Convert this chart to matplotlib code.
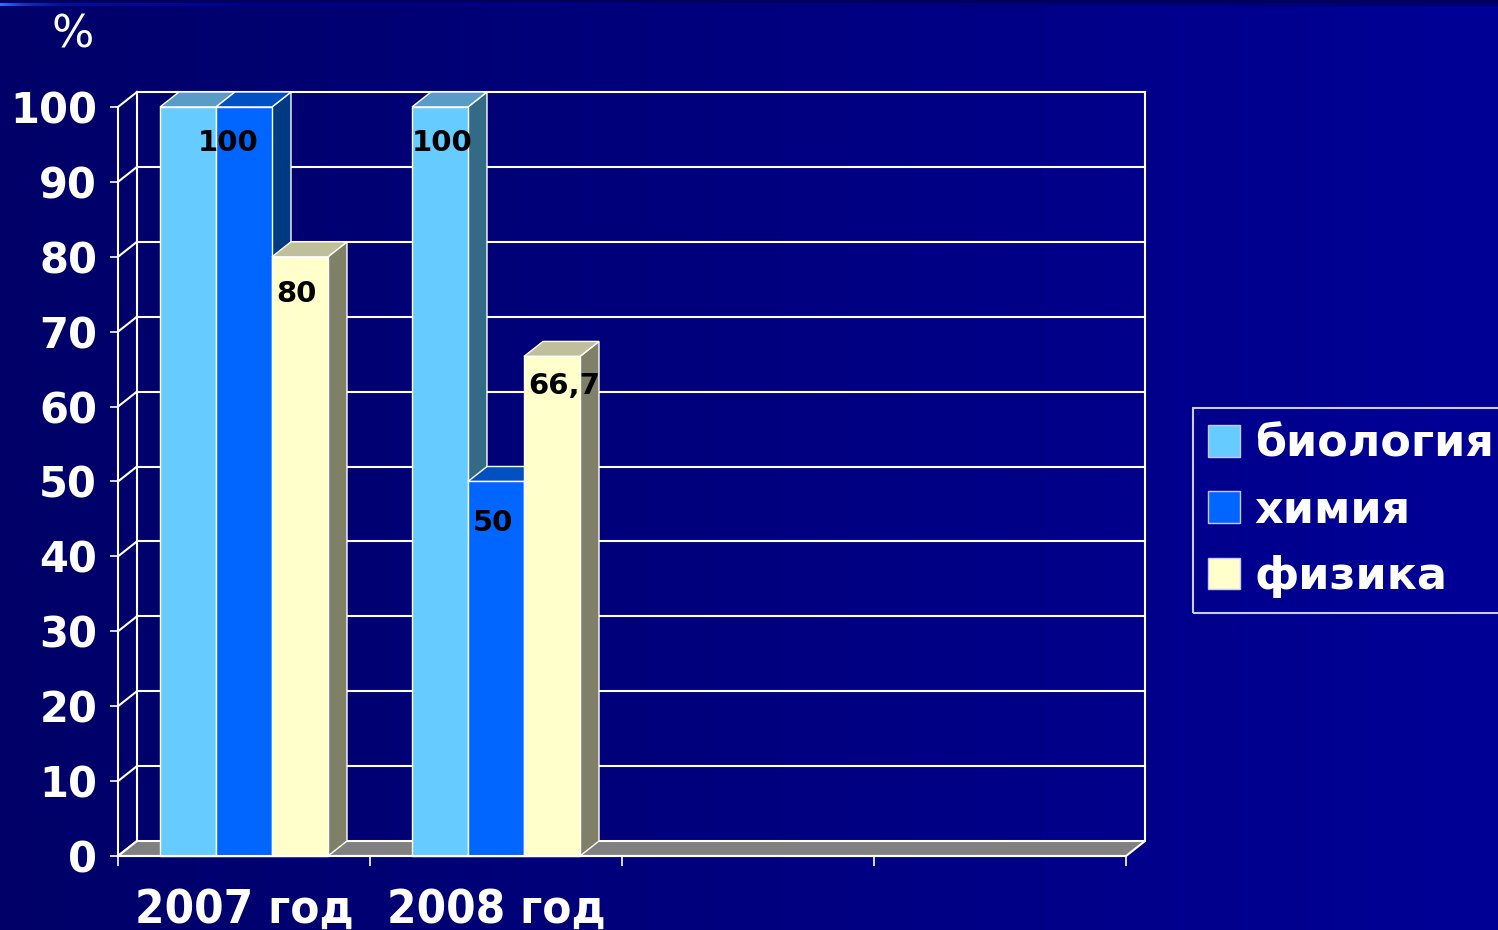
import numpy as np
import matplotlib
matplotlib.use('Agg')
import matplotlib.pyplot as plt
from matplotlib.patches import Rectangle, Polygon, Patch

# Data
years = ['2007 год', '2008 год']
subjects = ['биология', 'химия', 'физика']
biology = [100, 100]
chemistry = [100, 50]
physics = [80, 66.7]
y_ticks = list(range(0, 101, 10))
n_slots = 4  # the chart keeps room for four categories, two are empty

# value labels that are actually shown on the slide: (year index, subject index) -> text
shown_labels = {(0, 1): '100', (0, 2): '80', (1, 0): '100', (1, 1): '50', (1, 2): '66,7'}
# small placement nudges (x in category units, y in value units)
label_shift = {(0, 1): (-0.063, -4.8), (0, 2): (-0.016, -5.0), (1, 0): (0.01, -4.8),
               (1, 1): (-0.01, -5.6), (1, 2): (0.05, -4.0)}

# Colours: front, top, side of each 3D bar
face_colors = {
    'биология': ('#66CCFF', '#5A9CC6', '#336A86'),
    'химия': ('#0066FF', '#0050C4', '#003A80'),
    'физика': ('#FFFFCC', '#BFBF9C', '#808068'),
}

W, H = 1498, 930
fig = plt.figure(figsize=(W / 100, H / 100), dpi=100)

# Background: navy gradient with a thin strip on top
bg = np.zeros((H, W, 3))
bg[:, :, 2] = np.linspace(0x68, 0x96, W) / 255
bg[0:4, :, 2] = 0x5C / 255
xs = np.arange(W)
bg[4:7, :, 0] = np.interp(xs, [0, 25, 60, 1498], [0x30, 0x10, 0, 0])[None, :] / 255
bg[4:7, :, 1] = np.interp(xs, [0, 25, 60, 250, 1498], [0x70, 0x30, 0x10, 0, 0])[None, :] / 255
bg[4:7, :, 2] = np.interp(xs, [0, 25, 60, 250, 1498], [0xFF, 0xC0, 0xA0, 0x90, 0x70])[None, :] / 255
bg_ax = fig.add_axes([0, 0, 1, 1])
bg_ax.imshow(bg, aspect='auto', interpolation='nearest')
bg_ax.axis('off')

# Axes placed so the front plane goes from x=118 to 1127 px and y=856 to 107 px
dx = 19 / 252.25   # depth offset in category units
dy = 2.0           # depth offset in value units
ax = fig.add_axes([118 / W, 1 - 856 / H, (1145 - 118) / W, (856 - 92) / H])
ax.patch.set_visible(False)
ax.set_xlim(-0.5, n_slots - 0.5 + dx)
ax.set_ylim(0, 100 + dy)

x_left, x_right = -0.5, n_slots - 0.5

# back wall gridlines + left wall diagonals
for v in y_ticks[1:]:
    ax.plot([x_left + dx, x_right + dx], [v + dy, v + dy], color='white', lw=1.5, zorder=1, clip_on=False)
for v in y_ticks:
    ax.plot([x_left, x_left + dx], [v, v + dy], color='white', lw=1.5, zorder=1, clip_on=False)
for xv in [x_left + dx, x_right + dx]:
    ax.plot([xv, xv], [dy, 100 + dy], color='white', lw=1.5, zorder=1, clip_on=False)

# floor
ax.add_patch(Polygon([(x_left, 0), (x_right, 0), (x_right + dx, dy), (x_left + dx, dy)],
                     closed=True, facecolor='#808080', edgecolor='white', lw=1.5, zorder=2, clip_on=False))

# bars, drawn left to right so neighbours hide each other correctly
bw = 1 / 4.5
series = [biology, chemistry, physics]
z = 3
for gi in range(len(years)):
    for si, subj in enumerate(subjects):
        h = series[si][gi]
        x0 = gi - 1.5 * bw + si * bw
        front, top, side = face_colors[subj]
        ax.add_patch(Polygon([(x0 + bw, 0), (x0 + bw + dx, dy), (x0 + bw + dx, h + dy), (x0 + bw, h)],
                             closed=True, facecolor=side, edgecolor='white', lw=1, zorder=z, clip_on=False))
        ax.add_patch(Polygon([(x0, h), (x0 + bw, h), (x0 + bw + dx, h + dy), (x0 + dx, h + dy)],
                             closed=True, facecolor=top, edgecolor='white', lw=1, zorder=z, clip_on=False))
        ax.add_patch(Rectangle((x0, 0), bw, h, facecolor=front, edgecolor='white', lw=1, zorder=z,
                               clip_on=False))
        z += 1

# value labels
for (gi, si), txt in shown_labels.items():
    h = series[si][gi]
    sx, sy = label_shift[(gi, si)]
    xc = gi - 1.5 * bw + si * bw + bw / 2 + sx
    ax.text(xc, h + sy, txt, ha='center', va='center', fontsize=21, fontweight='bold',
            color='black', zorder=50)

# axes / ticks
for s in ['top', 'right']:
    ax.spines[s].set_visible(False)
ax.spines['left'].set_bounds(0, 100)
ax.spines['bottom'].set_bounds(x_left, x_right)
for s in ['left', 'bottom']:
    ax.spines[s].set_color('white')
    ax.spines[s].set_linewidth(1.5)
    ax.spines[s].set_zorder(40)

ax.set_yticks(y_ticks)
ax.set_yticklabels([str(v) for v in y_ticks], fontweight='bold')
ax.tick_params(axis='y', colors='white', direction='out', length=6, width=1.2, pad=9, labelsize=30)

ax.set_xticks(np.arange(n_slots + 1) - 0.5)
ax.set_xticklabels([])
ax.set_xticks(range(len(years)), minor=True)
ax.set_xticklabels(years, minor=True, fontweight='bold', fontstretch='condensed')
ax.tick_params(axis='x', which='major', colors='white', direction='out', length=7, width=1.2)
ax.tick_params(axis='x', which='minor', length=0, pad=23, labelsize=34, labelcolor='white')

fig.text(73 / W, 1 - 35 / H, '%', ha='center', va='center', fontsize=32, color='white')

# legend
handles = [Patch(facecolor=face_colors[s][0], edgecolor='#C8C8FF', lw=1) for s in subjects]
leg = fig.legend(handles, subjects, loc='upper left', bbox_to_anchor=(1193 / W, 1 - 408 / H),
                 frameon=True, fancybox=False, edgecolor='white', facecolor='none',
                 prop=dict(size=32, weight='bold'), labelcolor='white',
                 handlelength=0.72, handleheight=0.72, handletextpad=0.34,
                 labelspacing=0.52, borderpad=0.33, borderaxespad=0)
leg.get_frame().set_linewidth(1.5)

fig.savefig('out.png', dpi=100)
